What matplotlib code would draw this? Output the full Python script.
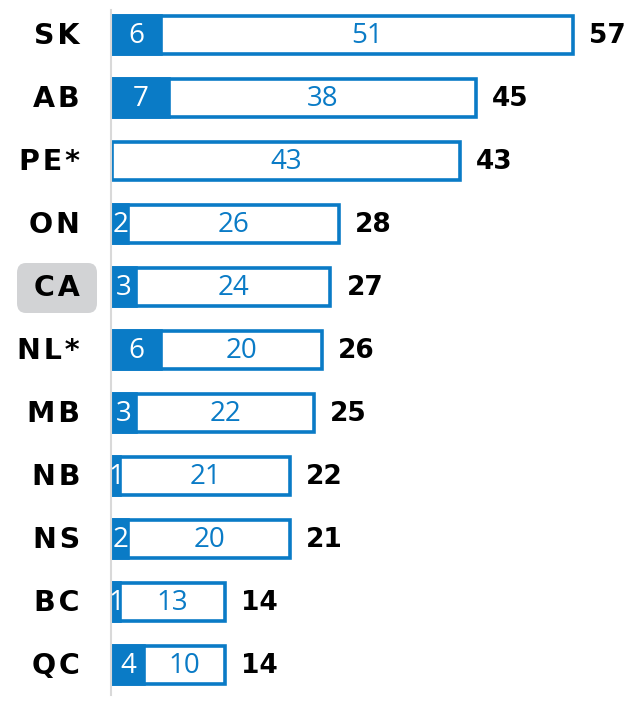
import matplotlib
matplotlib.use("Agg")
import matplotlib.pyplot as plt
from matplotlib.patches import FancyBboxPatch

categories = ["SK", "AB", "PE*", "ON", "CA", "NL*", "MB", "NB", "NS", "BC", "QC"]
filled = [6, 7, 0, 2, 3, 6, 3, 1, 2, 1, 4]
outlined = [51, 38, 43, 26, 24, 20, 22, 21, 20, 13, 10]
totals = [57, 45, 43, 28, 27, 26, 25, 22, 21, 14, 14]
highlight = "CA"

BLUE = "#0a7bc6"
W, H = 629, 701
fig = plt.figure(figsize=(W / 100, H / 100), dpi=100)
ax = fig.add_axes([112 / W, 0, (W - 112) / W, 1])
px_per_unit = 8.09
ax.set_xlim(0, (W - 112) / px_per_unit)
step = 63.0
ax.set_ylim((H - 35) / step, -35 / step)
ax.axis("off")

num_font = "Open Sans"
bh = 0.6
for i, (c, f, o, t) in enumerate(zip(categories, filled, outlined, totals)):
    ax.barh(i, f + o, left=0, height=bh, color="white", edgecolor=BLUE,
            linewidth=2.6, zorder=2)
    if f > 0:
        ax.barh(i, f, left=0, height=bh, color=BLUE, edgecolor=BLUE,
                linewidth=2.6, zorder=3)
        ax.text(f / 2, i + 0.02, str(f), color="white", ha="center", va="center",
                fontsize=20, family=num_font, zorder=4)
    ax.text(f + o / 2, i + 0.02, str(o), color=BLUE, ha="center", va="center",
            fontsize=20, family=num_font, zorder=4)
    ax.text(f + o + 16 / px_per_unit, i + 0.02, str(t), color="black", ha="left",
            va="center", fontsize=19, fontweight="bold", family="DejaVu Sans", zorder=4)
    label = "\u200a".join(list(c))
    yfig = 1 - (36 + step * i) / H
    fig.text(80 / W, yfig, label, ha="right", va="center", fontsize=20.5,
             fontweight="bold", family="DejaVu Sans")
    if c == highlight:
        box = FancyBboxPatch((17 / W, yfig - 25 / H), 80 / W, 50 / H,
                             boxstyle="round,pad=0,rounding_size=0.014",
                             transform=fig.transFigure, facecolor="#d2d3d5",
                             edgecolor="none", zorder=0)
        fig.patches.append(box)

fig.add_artist(plt.Line2D([111 / W, 111 / W], [1 - 10 / H, 1 - 695 / H],
                          transform=fig.transFigure, color="#d9d9d9", lw=1.5))

fig.savefig("out.png", dpi=100)
